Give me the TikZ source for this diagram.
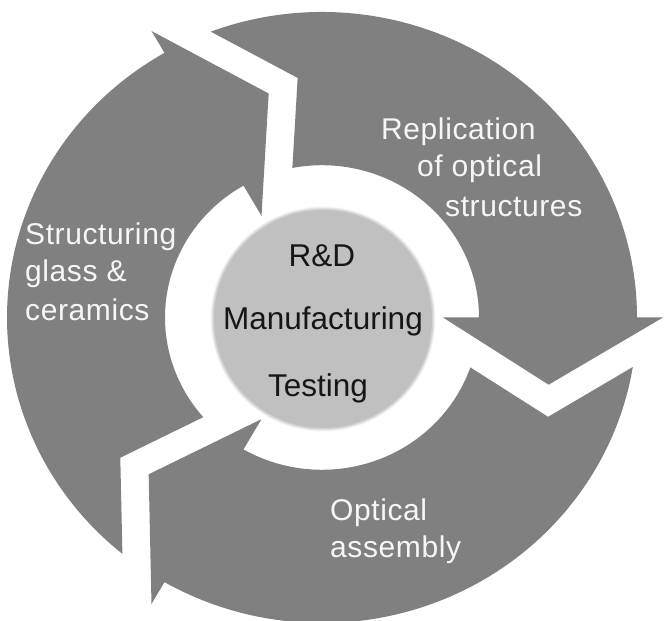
\documentclass[tikz,border=0pt]{standalone}
\usepackage{fontspec}
\setmainfont{Liberation Sans}
\newfontfamily\wfont[LetterSpace=2.0]{Liberation Sans}
\definecolor{arrowgray}{RGB}{128,128,128}
\definecolor{hubgray}{RGB}{192,192,192}
\definecolor{hubtext}{RGB}{22,22,22}
\definecolor{armtext}{RGB}{246,246,246}
\begin{document}
\begin{tikzpicture}[x=1pt,y=1pt,
  arrowfill/.style={fill=arrowgray,draw=none},
  armlabel/.style={inner sep=0pt,anchor=base west,text=armtext,font=\wfont\fontsize{30}{36}\selectfont},
  hublabel/.style={inner sep=0pt,anchor=base,text=hubtext,font=\fontsize{31.5}{36}\selectfont}]
\useasboundingbox (-322,-303.5) rectangle (342,317.5);
\fill[white] (-322,-303.5) rectangle (342,317.5);
\begin{scope}[yscale=0.97]
  \foreach \rot in {0,120,240} {
    \fill[arrowfill,rotate=\rot]
      (110.68:315) arc[start angle=110.68,end angle=0,radius=315]
      -- (341,0) -- (-17:237) -- (121,0) -- (157,0)
      arc[start angle=0,end angle=100.88,radius=157]
      -- (-24.35,246.97) -- cycle;
  }
\end{scope}
\foreach \w/\o in {6/0.08,4/0.12,2/0.18} {
  \draw[gray,line width=\w pt,opacity=\o] (1,-1.5) circle[radius=109.5];
}
\node[circle,fill=hubgray,minimum size=218pt,inner sep=0pt] (hub) at (1,-1.5) {};
\node[hublabel] (rd) at (0,50.5) {R\&D};
\node[hublabel] (manu) at (1,-12.5) {Manufacturing};
\node[hublabel] (test) at (-4,-78.5) {Testing};
\node[armlabel] (s1) at (-297,72.5) {Structuring};
\node[armlabel] (s2) at (-297,35.5) {glass \&};
\node[armlabel] (s3) at (-297,-2.5) {ceramics};
\node[armlabel] (r1) at (59,177.5) {Replication};
\node[armlabel] (r2) at (95,140.5) {of optical};
\node[armlabel] (r3) at (123,100.5) {structures};
\node[armlabel] (o1) at (8,-202.5) {Optical};
\node[armlabel] (o2) at (8,-239.5) {assembly};
\end{tikzpicture}
\end{document}
